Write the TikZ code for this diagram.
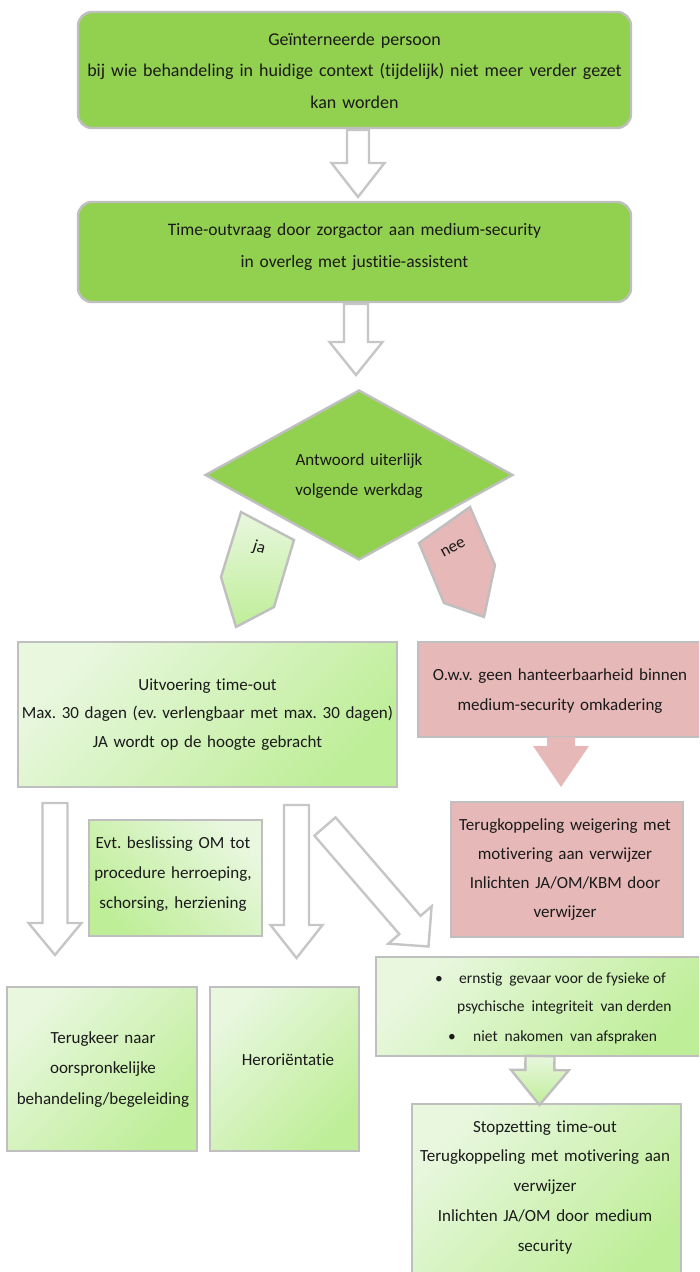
\documentclass[tikz,border=0pt]{standalone}
\usepackage{fontspec}
\setmainfont[Ligatures=NoCommon]{Carlito}
\usetikzlibrary{calc,shapes.geometric}
\frenchspacing
\definecolor{mgreen}{HTML}{92D050}
\definecolor{glight}{HTML}{E8F7DE}
\definecolor{gdark}{HTML}{BFEE99}
\definecolor{pinkf}{HTML}{E6B9B8}
\definecolor{bgray}{HTML}{BFBFBF}
\definecolor{agray}{HTML}{C6C6C6}
\definecolor{ink}{HTML}{1A1A1A}
% block arrow: #1 style, #2 start, #3 tip, #4 shaft half width, #5 head half width, #6 head length
\newcommand\blockarr[6]{%
  \coordinate (bahead) at ($(#3)!#6!(#2)$);
  \path[#1] ($(#2)!#4!90:(#3)$) -- ($(bahead)!#4!90:(#3)$) -- ($(bahead)!#5!90:(#3)$) -- (#3)
     -- ($(bahead)!#5!-90:(#3)$) -- ($(bahead)!#4!-90:(#3)$) -- ($(#2)!#4!-90:(#3)$) -- cycle;}
\tikzset{
  gb/.style={draw=bgray, line width=2.4pt},
  solidbox/.style={gb, fill=mgreen, rounded corners=14pt, inner sep=0pt},
  fadeA/.style={gb, top color=glight, bottom color=gdark, shading angle=45, inner sep=0pt},
  fadeB/.style={gb, top color=glight, bottom color=gdark, shading angle=-45, inner sep=0pt},
  pinkbox/.style={gb, fill=pinkf, inner sep=0pt},
  hollow/.style={draw=agray, line width=2.4pt, fill=white, line join=miter},
  txt/.style={inner sep=0pt, text=ink, anchor=base, align=center},
  btxt/.style={inner sep=0pt, text=ink, anchor=base west, font=\fontsize{15.5}{28}\selectfont},
}
\begin{document}
\begin{tikzpicture}[x=1pt,y=-1pt]
\useasboundingbox (0,0) rectangle (699,1272);
\clip (0,0) rectangle (699,1272);

% boxes
\node[solidbox, minimum width=553pt, minimum height=116pt] (b1) at (354.5,70) {};
\node[solidbox, minimum width=553pt, minimum height=100pt] (b2) at (354.5,252) {};
\node[diamond, gb, fill=mgreen, minimum width=308pt, minimum height=170pt, inner sep=0pt, aspect=1.8] (dia) at (359,475) {};
\node[fadeA, minimum width=379pt, minimum height=145pt] (b3) at (207.5,714.5) {};
\node[pinkbox, minimum width=286pt, minimum height=95pt] (b4) at (561,689.5) {};
\node[pinkbox, minimum width=232pt, minimum height=135pt] (b5) at (567,869.5) {};
\node[fadeB, minimum width=173pt, minimum height=116pt] (b6) at (175.5,878) {};
\node[fadeA, minimum width=190pt, minimum height=164pt] (b7) at (102,1069) {};
\node[fadeA, minimum width=149pt, minimum height=164pt] (b8) at (284.5,1069) {};
\node[fadeA, minimum width=329pt, minimum height=99pt] (b9) at (540.5,1006.5) {};
\node[fadeA, minimum width=269pt, minimum height=181pt] (b10) at (546.5,1194.5) {};

% connector end points
\coordinate (a1s) at (358,130);   \coordinate (a1e) at (358,197);
\coordinate (a2s) at (356,304);   \coordinate (a2e) at (356,375);
\coordinate (aps) at (561,737);   \coordinate (ape) at (561,787);
\coordinate (aAs) at (55,803);    \coordinate (aAe) at (55,955);
\coordinate (aBs) at (296.5,805); \coordinate (aBe) at (296.5,958);
\coordinate (aCs) at (325,826.5); \coordinate (aCe) at (428.5,946.5);
\coordinate (ags) at (540,1056);  \coordinate (age) at (539.5,1105);

\blockarr{hollow}{a1s}{a1e}{11pt}{26.5pt}{34pt}
\blockarr{hollow}{a2s}{a2e}{12pt}{26.5pt}{33pt}
\blockarr{fill=pinkf}{aps}{ape}{14pt}{28pt}{41pt}
\blockarr{hollow}{aAs}{aAe}{12.5pt}{26.5pt}{32pt}
\blockarr{hollow}{aBs}{aBe}{12.5pt}{26pt}{33pt}
\blockarr{hollow}{aCs}{aCe}{14pt}{28.6pt}{28.4pt}
\blockarr{gb, top color=glight, bottom color=gdark}{ags}{age}{14.5pt}{29pt}{35pt}

% ja / nee tags
\draw[gb, top color=glight, bottom color=gdark] (241,512) -- (294,540) -- (274,607) -- (236,627) -- (221,577) -- cycle;
\draw[gb, fill=pinkf] (470,507) -- (495,565) -- (484,617) -- (444,603) -- (419,543) -- cycle;
\node[inner sep=0pt, text=ink, rotate=-17, font=\fontsize{17}{17}\selectfont] (ja) at (259,548) {ja};
\node[inner sep=0pt, text=ink, rotate=28, font=\fontsize{17}{17}\selectfont] (nee) at (453,548) {nee};

% texts
\node[txt, text width=553pt, font=\fontsize{18}{31.5}\selectfont] (t1) at (354.5,45)
  {Geïnterneerde persoon\\bij wie behandeling in huidige context (tijdelijk) niet meer verder gezet\\kan worden};
\node[txt, text width=553pt, font=\fontsize{17.5}{32}\selectfont] (t2) at (354.5,235)
  {Time-outvraag door zorgactor aan medium-security\\in overleg met justitie-assistent};
\node[txt, text width=200pt, font=\fontsize{17}{30}\selectfont] (td) at (359,465)
  {Antwoord uiterlijk\\volgende werkdag};
\node[txt, text width=379pt, font=\fontsize{17}{28.5}\selectfont] (t3) at (207.5,690)
  {Uitvoering time-out\\Max. 30 dagen (ev. verlengbaar met max. 30 dagen)\\JA wordt op de hoogte gebracht};
\node[txt, text width=280pt, font=\fontsize{17}{30}\selectfont] (t4) at (560,680)
  {O.w.v. geen hanteerbaarheid binnen\\medium-security omkadering};
\node[txt, text width=228pt, font=\fontsize{17}{29.3}\selectfont] (t5) at (565,830)
  {Terugkoppeling weigering met\\motivering aan verwijzer\\Inlichten JA/OM/KBM door\\verwijzer};
\node[txt, text width=170pt, font=\fontsize{17}{30}\selectfont] (t6) at (173,848)
  {Evt. beslissing OM tot\\procedure herroeping,\\schorsing, herziening};
\node[txt, text width=186pt, font=\fontsize{17}{30.5}\selectfont] (t7) at (103,1043)
  {Terugkeer naar\\oorspronkelijke\\behandeling/begeleiding};
\node[txt, text width=140pt, font=\fontsize{17}{30}\selectfont] (t8) at (288,1065) {Heroriëntatie};
\node[txt, text width=265pt, font=\fontsize{17}{29.8}\selectfont] (t10) at (545,1132)
  {Stopzetting time-out\\Terugkoppeling met motivering aan\\verwijzer\\Inlichten JA/OM door medium\\security};

% bullets
\node[btxt, anchor=base] (u1) at (439,983.5) {•};
\node[btxt] (l1) at (459,983.5) {ernstig\ \ gevaar voor de fysieke of};
\node[btxt] (l2) at (457,1011.5) {psychische\ \ integriteit\ \ van derden};
\node[btxt, anchor=base] (u2) at (452,1041.5) {•};
\node[btxt] (l3) at (473,1041.5) {niet\ \ nakomen\ \ van afspraken};
\end{tikzpicture}
\end{document}
